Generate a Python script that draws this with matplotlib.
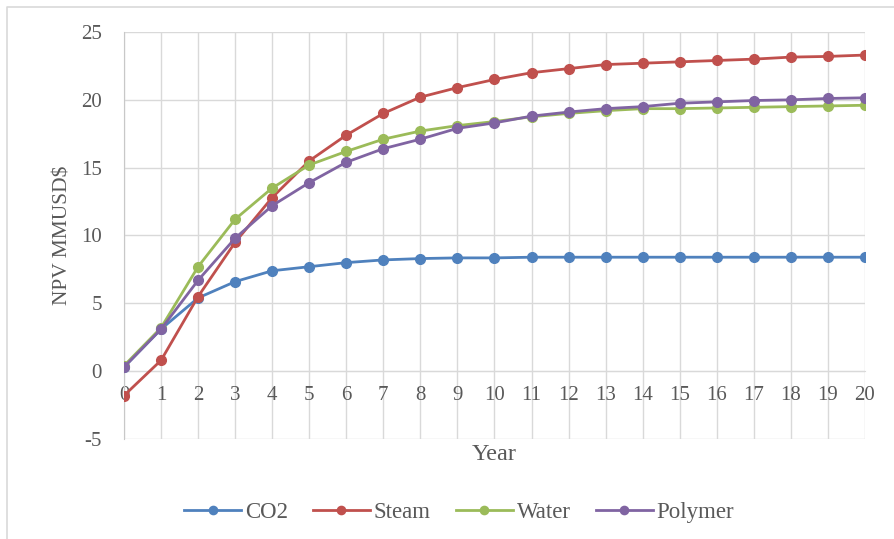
import matplotlib.pyplot as plt
from matplotlib.lines import Line2D

years = list(range(21))
co2 = [0.3, 3.1, 5.4, 6.6, 7.4, 7.7, 8.0, 8.2, 8.3, 8.35, 8.35, 8.4, 8.4, 8.4, 8.4, 8.4, 8.4, 8.4, 8.4, 8.4, 8.4]
steam = [-1.8, 0.8, 5.5, 9.5, 12.8, 15.5, 17.4, 19.0, 20.2, 20.9, 21.5, 22.0, 22.3, 22.6, 22.7, 22.8, 22.9, 23.0, 23.15, 23.2, 23.3]
water = [0.4, 3.2, 7.7, 11.2, 13.5, 15.2, 16.2, 17.1, 17.7, 18.1, 18.4, 18.75, 19.0, 19.2, 19.35, 19.35, 19.4, 19.45, 19.5, 19.55, 19.6]
polymer = [0.3, 3.1, 6.7, 9.8, 12.2, 13.9, 15.4, 16.4, 17.1, 17.9, 18.3, 18.8, 19.1, 19.35, 19.5, 19.75, 19.85, 19.95, 20.0, 20.1, 20.15]

names = ["CO2", "Steam", "Water", "Polymer"]
colors = ["#4F81BD", "#C0504D", "#9BBB59", "#8064A2"]
yticks = [-5, 0, 5, 10, 15, 20, 25]

plt.rcParams["font.family"] = ["Liberation Serif", "DejaVu Serif"]
plt.rcParams["axes.unicode_minus"] = False
txt = "#595959"

fig = plt.figure(figsize=(8.95, 5.39), dpi=100)
ax = fig.add_axes([124 / 895, 1 - 439 / 539, 741 / 895, 407 / 539])

for vals, name, c in zip([co2, steam, water, polymer], names, colors):
    ax.plot(years, vals, color=c, lw=2.0, marker="o", ms=7, label=name, zorder=3)

ax.set_xlim(0, 20)
ax.set_ylim(-5, 25)
ax.set_xticks(years)
ax.set_yticks(yticks)
ax.grid(True, color="#d9d9d9", lw=1.0, zorder=0)
for s in ["top", "right"]:
    ax.spines[s].set_visible(False)
ax.spines["left"].set_color("#c8c8c8")
ax.spines["bottom"].set_position(("data", 0))
ax.spines["bottom"].set_color("#d9d9d9")
ax.tick_params(axis="both", length=0, labelsize=15, labelcolor=txt)
ax.tick_params(axis="x", pad=11)
ax.tick_params(axis="y", pad=16)

ax.set_ylabel("NPV MMUSD$", fontsize=15.5, color=txt, labelpad=6)
fig.text(494 / 895, 1 - 454 / 539, "Year", fontsize=17.5, color=txt, ha="center", va="center")

ax.legend(loc="center", bbox_to_anchor=(459 / 895, 1 - 512 / 539), bbox_transform=fig.transFigure,
          ncol=4, frameon=False, fontsize=16.5, labelcolor=txt, handlelength=2.5,
          handletextpad=0.15, columnspacing=1.1, markerscale=0.85)

fig.add_artist(Line2D([7 / 895, 7 / 895, 1.0], [0.0, 1 - 7 / 539, 1 - 7 / 539],
                      transform=fig.transFigure, color="#d9d9d9", lw=1.2))

fig.savefig("out.png", dpi=100)
